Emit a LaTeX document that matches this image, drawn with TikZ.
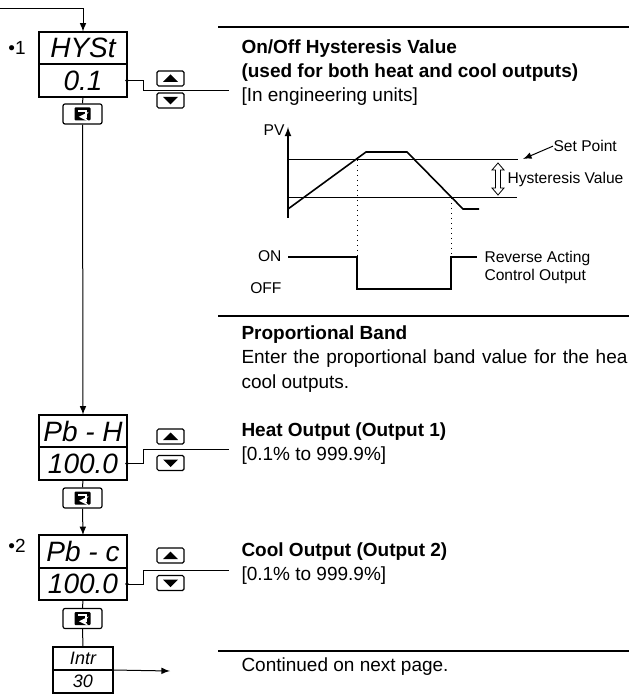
\documentclass[tikz,border=0pt]{standalone}
\usepackage{fontspec}
\setmainfont{Liberation Sans}
\usetikzlibrary{
  positioning,
  arrows
}
\tikzset{>=latex}
\tikzset{
  disp/.style={draw, line width=1.1pt, minimum width=44pt, minimum height=16.25pt,
    inner sep=0pt, outer sep=0pt, font=\fontsize{14}{16}\selectfont\itshape},
  smalldisp/.style={draw, line width=0.6pt, minimum width=30pt, minimum height=11.5pt,
    inner sep=0pt, outer sep=0pt, font=\fontsize{9}{10}\selectfont\itshape},
  btn/.style={draw, line width=0.6pt, rounded corners=0.8pt, minimum width=13.5pt,
    minimum height=7.5pt, inner sep=0pt},
  keybtn/.style={draw, line width=0.6pt, rounded corners=1pt, minimum width=19.5pt,
    minimum height=10pt, inner sep=0pt},
  head/.style={anchor=base west, inner sep=0pt, font=\fontsize{9.5}{11}\selectfont\bfseries},
  body/.style={anchor=base west, inner sep=0pt, font=\fontsize{9.5}{11}\selectfont},
  lbl/.style={inner sep=0pt, font=\fontsize{7.8}{9}\selectfont},
  rule/.style={line width=0.6pt},
  wire/.style={line width=0.5pt},
}

\begin{document}
\begin{tikzpicture}[x=0.5pt, y=-0.5pt, line width=0.5pt]
  \useasboundingbox (0,0) rectangle (629,694);
  \clip (0,0) rectangle (629,694);

  % displays down the left side
  \node[disp] (hyst) at (83,48) {HYSt};
  \node[disp, below=0pt of hyst] (hystv) {0.1};
  \node[keybtn] (hystkey) at (82.5,114) {};
  \node[disp] (pbh) at (83,431) {Pb - H};
  \node[disp, below=0pt of pbh] (pbhv) {100.0};
  \node[keybtn] (pbhkey) at (82.5,498) {};
  \node[disp] (pbc) at (83,551.5) {Pb - c};
  \node[disp, below=0pt of pbc] (pbcv) {100.0};
  \node[keybtn] (pbckey) at (82.5,618.5) {};
  \node[smalldisp] (intr) at (83,658.5) {Intr};
  \node[smalldisp, below=0pt of intr] (intrv) {30};

  \node[body] (num1) at (8,55) {•1};
  \node[body] (num2) at (8,552) {•2};

  % up/down keys and mode keys
  \foreach \n/\u/\d in {hyst/78.5/100.5, pbh/436.5/463, pbc/555.5/583}{
    \node[btn] (\n-up) at (170.5,\u) {};
    \node[btn] (\n-down) at (170.5,\d) {};
    \fill[shift={(\n-up.center)}] (-7.5,3.5) -- (7.5,3.5) -- (0,-4) -- cycle;
    \fill[shift={(\n-down.center)}] (-7.5,-3.5) -- (7.5,-3.5) -- (0,4) -- cycle;
    \fill[shift={(\n key.center)}, rounded corners=0.5pt] (-8,-6.5) rectangle (8,6.5);
    \draw[shift={(\n key.center)}, white, line width=1.1pt, ->, >=stealth]
      (-4.5,-3.2) -- (3.4,-3.2) -- (3.4,2.8) -- (-3.6,2.8);
  }

  % flow down the menu
  \coordinate (entry) at (0,9);
  \draw[wire, ->] (entry) -| (hyst.north);
  \draw[wire] (hystv.south) -- (hystkey.north);
  \draw[wire, ->] (hystkey.south) -- (pbh.north);
  \draw[wire] (pbhv.south) -- (pbhkey.north);
  \draw[wire, ->] (pbhkey.south) -- (pbc.north);
  \draw[wire] (pbcv.south) -- (pbckey.north);
  \draw[wire] (pbckey.south) -- (intr.north);
  \coordinate (intrend) at (170,671);
  \draw[wire, ->] (intr.south east) -- (intrend);

  % leaders to the descriptions
  \coordinate (hystend) at (229,91);
  \coordinate (pbhend) at (229,449.5);
  \coordinate (pbcend) at (229,570);
  \foreach \n in {hyst, pbh, pbc}{
    \fill (\n v.east) circle (0.9pt);
    \draw[wire] (\n v.east) -- ++(16,0) |- (\n end);
  }

  % separators
  \draw[rule] (218,27) -- (629,27);
  \draw[rule] (218,316) -- (629,316);
  \draw[rule] (218,651) -- (629,651);

  % descriptions
  \node[head] (hysttitle) at (241,53.5) {On/Off Hysteresis Value};
  \node[head] (hystnote) at (241,78) {(used for both heat and cool outputs)};
  \node[body] (hystunit) at (241,102) {[In engineering units]};
  \node[head] (pbtitle) at (241,340) {Proportional Band};
  \node[body] (pbtext) at (241,364) {\makebox[193pt][s]{Enter the proportional band value for the hea}};
  \node[body] (pbtext2) at (241,388) {cool outputs.};
  \node[head] (heattitle) at (241,436.7) {Heat Output (Output 1)};
  \node[body] (heatrange) at (241,460) {[0.1\% to 999.9\%]};
  \node[head] (cooltitle) at (241,556.7) {Cool Output (Output 2)};
  \node[body] (coolrange) at (241,580) {[0.1\% to 999.9\%]};
  \node[body] (contd) at (241,671.7) {Continued on next page.};

  % hysteresis chart
  \draw[line width=0.6pt, ->] (288,218) -- (288,127);
  \draw (288,160) -- (518,160);
  \draw (288,198) -- (517,198);
  \draw[line width=0.8pt] (288,209) -- (366,152) -- (407,152) -- (463,209) -- (479,209);
  \draw[dotted] (357,160) -- (357,257);
  \draw[dotted] (451,198) -- (451,257);
  \draw[line width=0.8pt] (288,257) -- (357,257) -- (357,289) -- (451,289) -- (451,257) -- (477,257);
  \draw[line width=0.4pt] (498,163) -- (504,170) -- (500.5,170) -- (500.5,188) -- (504,188)
    -- (498,195) -- (492,188) -- (495.5,188) -- (495.5,170) -- (492,170) -- cycle;

  \node[lbl, anchor=base east] (pv) at (285,135.5) {PV};
  \node[lbl, anchor=base west] (setpt) at (553,151.7) {Set Point};
  \coordinate (sptip) at (523,159);
  \draw[->] (setpt.west) -- (sptip);
  \node[lbl, anchor=base west] (hystval) at (507,184) {Hysteresis Value};
  \node[lbl, anchor=base east] (on) at (282,261.7) {ON};
  \node[lbl, anchor=base east] (off) at (282,293.3) {OFF};
  \node[lbl, anchor=base west] (rev) at (484,262.7) {Reverse Acting};
  \node[lbl, anchor=base west] (ctrl) at (484,281) {Control Output};
\end{tikzpicture}
\end{document}
